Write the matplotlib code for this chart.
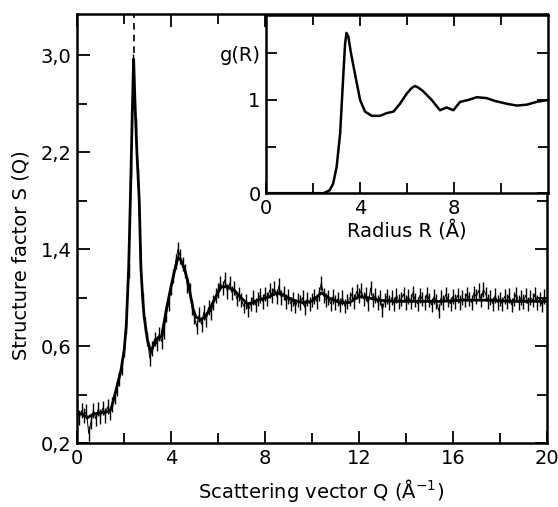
import matplotlib
matplotlib.use("Agg")
import matplotlib.pyplot as plt
import numpy as np

# measured S(Q), one value every 0.1 A^-1 from 0 to 20
q_obs = np.round(np.arange(0, 20.05, 0.1), 2)
s_obs = [
    0.09, 0.01, 0.07, 0.03, 0.06, -0.12, -0.02, 0.07, 0.00, 0.08,
    0.02, 0.09, 0.03, 0.10, 0.05, 0.12, 0.18, 0.25, 0.33, 0.42,
    0.57, 0.76, 1.22, 2.05, 2.95, 2.42, 2.00, 1.38, 0.98, 0.78,
    0.66, 0.50, 0.58, 0.66, 0.62, 0.70, 0.64, 0.72, 0.86, 0.95,
    1.08, 1.18, 1.30, 1.40, 1.34, 1.28, 1.22, 1.10, 1.06, 0.92,
    0.84, 0.76, 0.86, 0.78, 0.88, 0.82, 0.92, 0.88, 0.96, 1.02,
    1.06, 1.12, 1.08, 1.15, 1.05, 1.12, 1.04, 1.08, 0.99, 1.03,
    0.98, 0.93, 0.97, 0.90, 0.95, 1.00, 0.94, 0.99, 1.02, 0.97,
    1.03, 0.99, 1.06, 1.02, 1.08, 1.01, 1.10, 1.00, 1.04, 0.97,
    1.01, 0.95, 0.99, 0.93, 0.98, 0.96, 1.00, 0.92, 0.99, 0.95,
    0.98, 1.01, 0.97, 1.03, 1.12, 1.02, 0.98, 1.00, 0.95, 1.01,
    0.96, 0.99, 0.94, 1.00, 0.93, 0.97, 0.99, 1.03, 0.97, 1.05,
    1.02, 1.06, 0.99, 1.03, 0.95, 1.08, 0.98, 1.02, 0.96, 1.00,
    0.90, 0.98, 1.01, 0.96, 1.00, 0.95, 1.02, 0.97, 0.99, 1.03,
    0.96, 1.01, 0.97, 1.04, 0.98, 0.95, 1.02, 0.99, 0.96, 1.03,
    0.98, 0.94, 1.01, 0.97, 0.89, 1.00, 0.96, 1.03, 0.98, 0.95,
    1.01, 0.97, 1.02, 0.96, 1.00, 0.98, 1.03, 0.99, 0.96, 1.04,
    1.01, 1.06, 0.98, 1.07, 1.03, 0.97, 1.00, 0.95, 1.02, 0.96,
    0.99, 0.95, 1.01, 0.97, 1.02, 0.94, 0.99, 1.03, 0.96, 1.00,
    0.97, 1.02, 0.95, 1.00, 0.98, 1.03, 0.96, 0.99, 0.94, 1.01,
    0.97,
]
s_err = 0.06

# smooth curve through the data
q_fit = [0.0, 0.2, 0.45, 0.7, 1.0, 1.3, 1.45, 1.6, 1.73, 1.87, 2.01, 2.1,
         2.2, 2.27, 2.35, 2.41, 2.47, 2.55, 2.65, 2.72, 2.8, 2.86, 3.0,
         3.15, 3.3, 3.45, 3.6, 3.8, 4.0, 4.15, 4.3, 4.43, 4.6, 4.71, 4.85,
         4.95, 5.06, 5.28, 5.49, 5.63, 5.84, 6.13, 6.41, 6.7, 6.98, 7.26,
         7.5, 7.7, 8.1, 8.5, 8.8, 9.2, 9.6, 10.0, 10.4, 10.8, 11.2, 11.6,
         12.0, 12.4, 12.8, 13.5, 14.5, 15.5, 16.5, 17.5, 18.5, 19.5, 20.0]
s_fit = [0.05, 0.04, 0.01, 0.04, 0.05, 0.06, 0.08, 0.19, 0.29, 0.40, 0.57,
         0.78, 1.25, 1.8, 2.5, 2.97, 2.6, 2.2, 1.8, 1.25, 0.98, 0.84, 0.65,
         0.55, 0.63, 0.67, 0.68, 0.9, 1.09, 1.22, 1.33, 1.31, 1.22, 1.14,
         1.0, 0.9, 0.84, 0.82, 0.85, 0.9, 0.98, 1.09, 1.09, 1.06, 1.0,
         0.95, 0.96, 0.98, 1.0, 1.04, 1.02, 0.98, 0.96, 0.97, 1.04, 0.99,
         0.96, 0.96, 1.01, 1.0, 0.98, 0.97, 0.97, 0.97, 0.98, 0.98, 0.97,
         0.97, 0.97]

# error bar of the first peak (dashed, runs out of the frame)
peak_q = 2.44
peak_lo, peak_hi = 3.02, 3.36

# pair distribution function g(R)
r_g = [0.0, 2.0, 2.44, 2.7, 2.85, 3.0, 3.15, 3.29, 3.36, 3.42, 3.5, 3.6,
       3.72, 3.86, 4.0, 4.21, 4.5, 4.85, 5.14, 5.42, 5.7, 5.99, 6.2, 6.34,
       6.5, 6.7, 7.05, 7.4, 7.69, 7.97, 8.26, 8.6, 8.97, 9.39, 9.74,
       10.24, 10.67, 11.1, 11.52, 12.0]
g_r = [0.0, 0.0, 0.0, 0.03, 0.1, 0.28, 0.64, 1.29, 1.6, 1.72, 1.68, 1.52,
       1.36, 1.18, 1.0, 0.875, 0.83, 0.83, 0.86, 0.875, 0.96, 1.07, 1.13,
       1.15, 1.13, 1.09, 1.0, 0.89, 0.92, 0.89, 0.98, 1.0, 1.03, 1.02,
       0.99, 0.96, 0.94, 0.95, 0.98, 1.0]

s_ticks = [-0.2, 0.6, 1.4, 2.2, 3.0]
s_ticklabels = ["0,2", "0,6", "1,4", "2,2", "3,0"]

fig = plt.figure(figsize=(5.58, 5.07), dpi=100)
ax = fig.add_axes([0.138, 0.126, 0.842, 0.846])

ax.errorbar(q_obs, s_obs, yerr=s_err, fmt="none", ecolor="black",
            elinewidth=1.0, capsize=0)
ax.plot(q_obs, s_obs, color="black", lw=0.7)
ax.plot(q_fit, s_fit, color="black", lw=2.0)
ax.vlines(peak_q, peak_lo, peak_hi, color="black", lw=1.2,
          linestyles=(0, (4, 3)))

ax.set_xlim(0, 20)
ax.set_ylim(-0.2, 3.34)
ax.set_xticks([0, 4, 8, 12, 16, 20])
ax.set_xticks([2, 6, 10, 14, 18], minor=True)
ax.set_yticks(s_ticks)
ax.set_yticklabels(s_ticklabels)
ax.set_yticks([0.2, 1.0, 1.8, 2.6], minor=True)
ax.tick_params(which="both", direction="in", top=True, right=True,
               width=1.3, labelsize=14, pad=4)
ax.tick_params(which="major", length=9)
ax.tick_params(which="minor", length=7)
for sp in ax.spines.values():
    sp.set_linewidth(1.8)
ax.set_xlabel("Scattering vector Q (Å$^{-1}$)", fontsize=14)
ax.set_ylabel("Structure factor S (Q)", fontsize=14)
ax.xaxis.set_label_coords(0.519, -0.08)
ax.yaxis.set_label_coords(-0.1, 0.438)

ins = fig.add_axes([0.477, 0.619, 0.505, 0.351])
ins.set_facecolor("white")
ins.plot(r_g, g_r, color="black", lw=1.8)
ins.set_xlim(0, 12)
ins.set_ylim(0, 1.91)
ins.set_xticks([0, 4, 8])
ins.set_xticks([2, 6, 10], minor=True)
ins.set_yticks([0, 1, 1.5])
ins.set_yticklabels(["0", "1", "g(R)"])
ins.set_yticks([0.5], minor=True)
ins.tick_params(which="both", direction="in", top=True, right=True,
                width=1.3, labelsize=14, pad=4)
ins.tick_params(which="major", length=8)
ins.tick_params(which="minor", length=7)
for sp in ins.spines.values():
    sp.set_linewidth(1.8)
ins.set_xlabel("Radius R (Å)", fontsize=14, labelpad=2)

fig.savefig("out.png", dpi=100)
